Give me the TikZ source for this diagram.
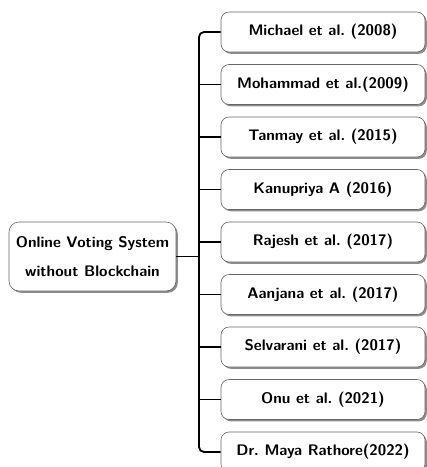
\documentclass[tikz,border=0pt]{standalone}
\usetikzlibrary{shadows}
\begin{document}
\frenchspacing
\begin{tikzpicture}[x=1pt,y=-1pt,
  box/.style={draw=black!60, line width=0.6pt, fill=white, rounded corners=8pt,
    drop shadow={shadow xshift=1.8pt, shadow yshift=-1.8pt, fill=black!45, opacity=1},
    font=\fontsize{15.3}{18}\sffamily\bfseries, align=center, inner sep=0pt},
  leaf/.style={box, minimum width=204pt, minimum height=40pt},
  root/.style={box, minimum width=167pt, minimum height=69pt, rounded corners=10pt},
  conn/.style={draw=black, line width=1.8pt}]
\useasboundingbox (0,0) rectangle (427,467);

\node[root] (root) at (92.5,256.5) {Online Voting System\\[11pt]without Blockchain};

\node[leaf] (c1) at (323,32) {Michael et al. (2008)};
\node[leaf] (c2) at (323,84.5) {Mohammad et al.(2009)};
\node[leaf] (c3) at (323,137) {Tanmay et al. (2015)};
\node[leaf] (c4) at (323,189.5) {Kanupriya A (2016)};
\node[leaf] (c5) at (323,242) {Rajesh et al. (2017)};
\node[leaf] (c6) at (323,294.5) {Aanjana et al. (2017)};
\node[leaf] (c7) at (323,347) {Selvarani et al. (2017)};
\node[leaf] (c8) at (323,399.5) {Onu et al. (2021)};
\node[leaf] (c9) at (323,452) {Dr. Maya Rathore(2022)};

% junction on the trunk, level with the root box
\coordinate (j) at (199,256.5);
\draw[conn] (root.east) -- (j);
% trunk with rounded ends to the first and last boxes
\draw[conn, rounded corners=5pt] (c1.west) -| (j |- c9.west) -- (c9.west);
\foreach \c in {c2,c3,c4,c5,c6,c7,c8}
  \draw[conn] (j |- \c.west) -- (\c.west);
\end{tikzpicture}
\end{document}
